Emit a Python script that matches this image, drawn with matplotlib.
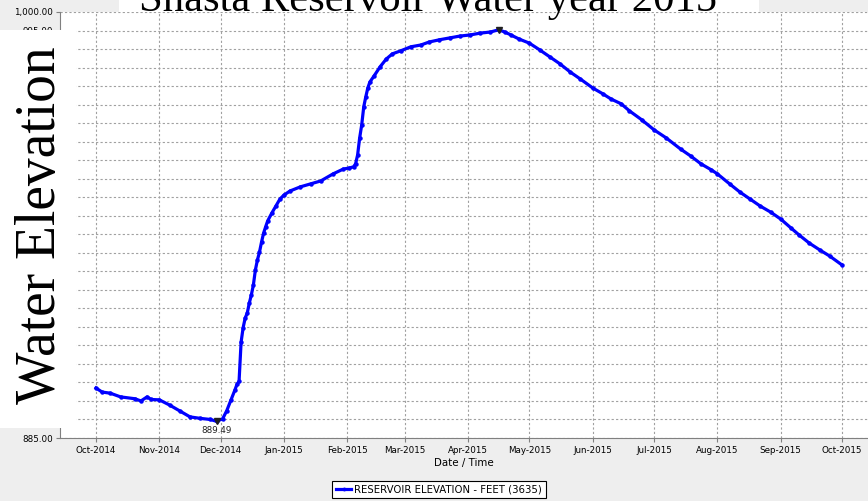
import matplotlib
matplotlib.use('Agg')
import matplotlib.pyplot as plt
import matplotlib.dates as mdates
from matplotlib.patches import Rectangle
from matplotlib.ticker import FuncFormatter, MultipleLocator
import numpy as np
import pandas as pd

# Shasta reservoir elevation, water year 2015 (day offsets from 1 Oct 2014)
START = pd.Timestamp('2014-10-01')
day_offsets = [0, 3, 7, 12, 19, 22, 25, 27, 31, 36, 41, 46, 51, 56, 59, 62, 64, 66, 68, 69, 70,
               71, 72, 73, 74, 75, 76, 77, 78, 79, 80, 81, 82, 83, 84, 86, 88, 90, 92, 95,
               100, 105, 110, 116, 121, 124, 126, 127, 128, 129, 130, 131, 132, 133, 134, 136,
               139, 142, 145, 149, 154, 159, 163, 168, 173, 178, 183, 188, 193, 197, 200, 203,
               207, 212, 217, 222, 227, 232, 237, 243, 248, 252, 257, 261, 267, 273, 279, 286,
               291, 296, 301, 304, 310, 315, 320, 325, 330, 335, 340, 344, 349, 354, 359, 365]
elevation_ft = [898.5, 897.4, 897.1, 896.1, 895.6, 895.0, 896.1, 895.4, 895.3, 893.9, 892.3,
                890.7, 890.3, 890.0, 889.49, 890.2, 892.4, 895.2, 898.0, 899.5, 900.3,
                910.9, 914.8, 917.4, 918.7, 921.4, 923.6, 926.3, 930.4, 933.1, 935.2, 937.9,
                940.3, 942.0, 943.6, 945.7, 947.6, 949.5, 950.6, 951.7,
                952.8, 953.6, 954.4, 956.3, 957.6, 957.9, 958.2, 959.0, 961.4, 966.0, 969.5,
                974.4, 977.1, 979.5, 981.1, 982.7,
                985.2, 987.3, 988.7, 989.5, 990.6, 991.1, 991.9, 992.5, 993.0, 993.5, 993.8,
                994.3, 994.6, 995.2, 994.6, 993.8,
                992.7, 991.6, 989.8, 987.9, 986.0, 983.8, 981.9, 979.5, 977.9, 976.5, 975.2,
                973.3, 970.9, 968.2, 966.0, 963.0,
                961.1, 959.0, 957.4, 956.3, 953.6, 951.4, 949.5, 947.6, 946.0, 944.1, 941.7,
                939.8, 937.6, 935.8, 934.1, 931.7]
labelled_ticks = [885, 995, 1000]   # the rest sit under the white label box
series_label = 'RESERVOIR ELEVATION - FEET (3635)'
min_label = '889.49'

BG = '#EEEEEE'
GRID = '#A0A0A0'
W, H = 868, 501

dates = START + pd.to_timedelta(day_offsets, unit='D')
vals = np.array(elevation_ft)

fig = plt.figure(figsize=(W / 100, H / 100), dpi=100, facecolor=BG)
ax = fig.add_axes([60 / W, 1 - 438 / H, 1 - 60 / W, 426 / H])
ax.set_facecolor('white')

ax.plot(dates, vals, color='#0000FF', lw=2.3, marker='o', ms=2.2, zorder=3, label=series_label)

# min / max markers
imin, imax = int(np.argmin(vals)), int(np.argmax(vals))
ax.plot(dates[imin], vals[imin], marker='v', color='#202020', ms=4, zorder=4)
ax.plot(dates[imax], vals[imax], marker='v', color='#202020', ms=4, zorder=4)
ax.annotate(min_label, xy=(dates[imin], vals[imin]), xytext=(0, -3), textcoords='offset points',
            ha='center', va='top', fontsize=6.3, color='#222222', zorder=5)

ax.set_xlim(START - pd.Timedelta(days=17.6), pd.Timestamp('2015-10-01') + pd.Timedelta(days=12.7))
ax.set_ylim(885, 1000)
ax.yaxis.set_major_locator(MultipleLocator(5))
ax.yaxis.set_major_formatter(FuncFormatter(
    lambda v, p: f'{v:,.2f}' if round(v) in labelled_ticks else ''))
ax.xaxis.set_major_locator(mdates.MonthLocator())
ax.xaxis.set_major_formatter(mdates.DateFormatter('%b-%Y'))

ax.grid(True, color=GRID, lw=0.8, ls=(0, (2, 2)))
ax.tick_params(labelsize=6.3, length=3, width=0.8, color='#808080', pad=2)
ax.tick_params(axis='x', pad=3)
for s in ['top', 'right']:
    ax.spines[s].set_visible(False)
for s in ['left', 'bottom']:
    ax.spines[s].set_color('#808080')
    ax.spines[s].set_linewidth(0.8)
ax.set_xlabel('Date / Time', fontsize=7.4, labelpad=2)

leg = fig.legend(loc='upper center', bbox_to_anchor=(439 / W, 1 - 481 / H), fontsize=7.3,
                 frameon=True, fancybox=False, edgecolor='black', framealpha=1,
                 handlelength=1.5, borderpad=0.35, handletextpad=0.3, markerscale=0.8,
                 borderaxespad=0)
leg.get_frame().set_linewidth(0.8)

# white overlays with the big labels
fig.add_artist(Rectangle((0, 1 - 428 / H), 76 / W, 398 / H, transform=fig.transFigure,
                         facecolor='white', edgecolor='none', zorder=5))
fig.add_artist(Rectangle((119 / W, 1 - 12 / H), 640 / W, 12 / H, transform=fig.transFigure,
                         facecolor='white', edgecolor='none', zorder=5))
fig.text(55 / W, 1 - 225 / H, 'Water Elevation', family='Liberation Serif', fontsize=40,
         rotation=90, rotation_mode='anchor', ha='center', va='baseline', zorder=6)
fig.text(428 / W, 1 - 11 / H, 'Shasta Reservoir Water year 2015', family='Liberation Serif',
         fontsize=30.7, ha='center', va='baseline', zorder=6)

fig.savefig('out.png', dpi=100, facecolor=BG)
